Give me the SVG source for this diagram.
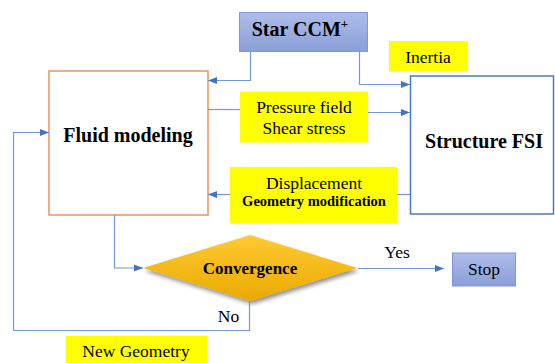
<svg xmlns="http://www.w3.org/2000/svg" width="555" height="363" viewBox="0 0 555 363">
<defs>
<linearGradient id="blueG" x1="0" y1="0" x2="0" y2="1">
<stop offset="0" stop-color="#aebce9"/>
<stop offset="1" stop-color="#8a9fd8"/>
</linearGradient>
<linearGradient id="goldG" x1="0" y1="0" x2="0" y2="1">
<stop offset="0" stop-color="#ffca33"/>
<stop offset="1" stop-color="#e9a900"/>
</linearGradient>
<filter id="sh" x="-20%" y="-20%" width="140%" height="150%">
<feGaussianBlur in="SourceAlpha" stdDeviation="2"/>
<feOffset dx="2" dy="3" result="b"/>
<feComponentTransfer><feFuncA type="linear" slope="0.45"/></feComponentTransfer>
<feMerge><feMergeNode/><feMergeNode in="SourceGraphic"/></feMerge>
</filter>
<marker id="arr" markerUnits="userSpaceOnUse" markerWidth="10" markerHeight="8" refX="9" refY="4" orient="auto">
<path d="M0,0.5 L9,4 L0,7.5 z" fill="#4472c4"/>
</marker>
</defs>
<style>
.lbl{fill:#ffff00}
.t{font-family:"Liberation Serif",serif;fill:#000;text-anchor:middle}
.r{font-size:17.5px}
.b{font-weight:bold}
.conn path{fill:none;stroke:#7497d8;stroke-width:1.2}
</style>
<g id="star">
<rect x="239.5" y="12.5" width="128" height="39" fill="url(#blueG)" stroke="#7d98d6" stroke-width="1"/>
<text class="t b" x="300" y="36" font-size="20" font-family="Liberation Serif">Star CCM<tspan font-size="13" dy="-8">+</tspan></text>
</g>
<g id="inertia">
<rect class="lbl" x="389" y="41" width="79" height="30"/>
<text class="t r" x="428" y="63" font-family="Liberation Serif">Inertia</text>
</g>
<g id="fluid">
<rect x="49" y="71" width="159" height="144" fill="#fff" stroke="#f0925a" stroke-width="1.5"/>
<text class="t b" x="128" y="141.5" font-size="20" font-family="Liberation Serif">Fluid modeling</text>
</g>
<g id="structure">
<rect x="410.5" y="76" width="143" height="138" fill="#fff" stroke="#4a78c8" stroke-width="1.5"/>
<text class="t b" x="484" y="148" font-size="20" font-family="Liberation Serif">Structure FSI</text>
</g>
<g id="pressure">
<rect class="lbl" x="240" y="91.5" width="128" height="51"/>
<text class="t r" x="304" y="113" font-family="Liberation Serif">Pressure field</text>
<text class="t r" x="304" y="134" font-family="Liberation Serif">Shear stress</text>
</g>
<g id="displacement">
<rect class="lbl" x="230" y="167" width="167" height="56"/>
<text class="t r" x="314" y="188.5" font-family="Liberation Serif">Displacement</text>
<text class="t b" x="314" y="206" font-size="14.5" font-family="Liberation Serif">Geometry modification</text>
</g>
<g id="convergence">
<path d="M143,268 L250,235 L357,268 L250,301 Z" fill="url(#goldG)" filter="url(#sh)"/>
<text class="t b" x="250" y="274" font-size="17" font-family="Liberation Serif">Convergence</text>
</g>
<g id="stop">
<rect x="452.5" y="253" width="63" height="33" fill="url(#blueG)" stroke="#7d98d6" stroke-width="1"/>
<text class="t r" x="484" y="275" font-family="Liberation Serif">Stop</text>
</g>
<g id="newgeom">
<rect class="lbl" x="66" y="336" width="141" height="27"/>
<text class="t r" x="136" y="357" font-family="Liberation Serif">New Geometry</text>
</g>
<g id="labels">
<text class="t r" x="397" y="258" font-family="Liberation Serif">Yes</text>
<text class="t r" x="228.5" y="322" font-family="Liberation Serif">No</text>
</g>
<g class="conn" id="connectors">
<path d="M250.5,52 V80.5 H208" marker-end="url(#arr)"/>
<path d="M359.5,52 V84.5 H410" marker-end="url(#arr)"/>
<path d="M208,109.5 H240"/>
<path d="M368,112.5 H410" marker-end="url(#arr)"/>
<path d="M410,194.5 H397"/>
<path d="M230,194.5 H208" marker-end="url(#arr)"/>
<path d="M114.5,215 V268 H143" marker-end="url(#arr)"/>
<path d="M358,268.5 H444" marker-end="url(#arr)"/>
<path d="M249.5,301 V330.5 H13.5 V132.5 H49" marker-end="url(#arr)"/>
</g>
</svg>
